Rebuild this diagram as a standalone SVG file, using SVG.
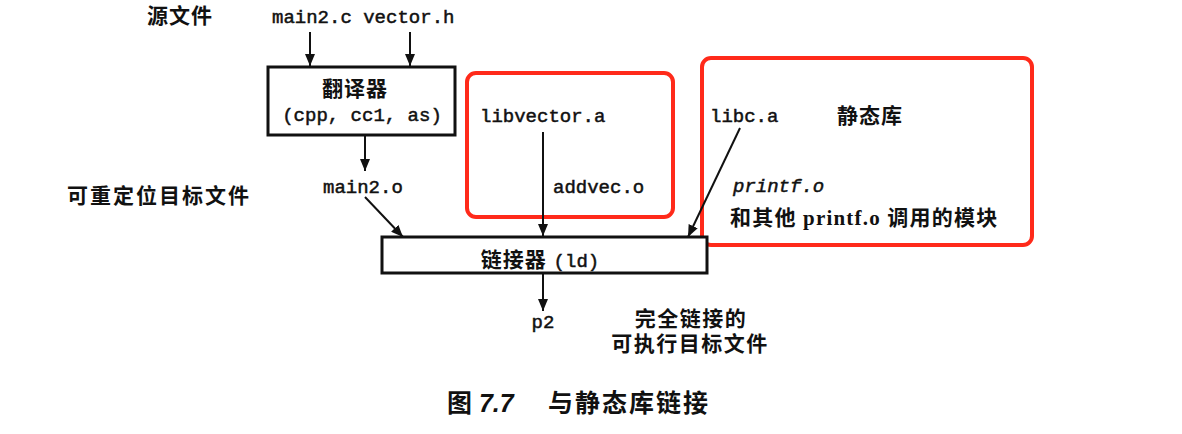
<svg xmlns="http://www.w3.org/2000/svg" width="1182" height="434" viewBox="0 0 1182 434">
<style>
.cn{font-family:"Liberation Sans","Noto Sans CJK SC",sans-serif;font-weight:bold;font-size:21px;fill:#111;letter-spacing:1px}
.mono{font-family:"Liberation Mono","Courier New",monospace;font-size:19px;fill:#111;stroke:#111;stroke-width:0.5}
.serif{font-family:"Liberation Serif","Noto Sans CJK SC",serif;font-weight:bold;font-size:21px;fill:#111;letter-spacing:1.2px}
.box{fill:#fff;stroke:#111;stroke-width:3}
.red{fill:none;stroke:#ff2a1a;stroke-width:4}
.edge{stroke:#111;stroke-width:2;fill:none;marker-end:url(#ah)}
</style>
<defs>
<marker id="ah" viewBox="0 0 12 10" refX="12" refY="5" markerWidth="12" markerHeight="10" orient="auto" markerUnits="userSpaceOnUse">
<path d="M0,0 L12,5 L0,10 z" fill="#111"/>
</marker>
</defs>
<rect width="1182" height="434" fill="#fff"/>
<g id="redbox1"><rect class="red" x="467" y="73" width="206" height="144" rx="9"/></g>
<g id="redbox2"><rect class="red" x="702" y="58" width="330" height="187" rx="9"/></g>
<g id="connectors">
<line class="edge" x1="310" y1="32" x2="310" y2="66"/>
<line class="edge" x1="410" y1="32" x2="410" y2="66"/>
<line class="edge" x1="365" y1="136" x2="365" y2="171"/>
<line class="edge" x1="365" y1="197" x2="403" y2="237"/>
<line class="edge" x1="543" y1="132" x2="543" y2="236"/>
<line class="edge" x1="740" y1="128" x2="688" y2="237"/>
<line class="edge" x1="543" y1="274" x2="543" y2="311"/>
</g>
<g id="label-source"><text class="cn" x="147" y="23">源文件</text></g>
<g id="sources"><text class="mono" x="272" y="23">main2.c vector.h</text></g>
<g id="translator">
<rect class="box" x="268" y="67" width="187" height="68"/>
<text class="cn" x="355" y="96" text-anchor="middle">翻译器</text>
<text class="mono" x="362" y="121" text-anchor="middle">(cpp, cc1, as)</text>
</g>
<g id="label-reloc"><text class="cn" x="67" y="203" style="letter-spacing:2px">可重定位目标文件</text></g>
<g id="main2o"><text class="mono" x="323" y="193">main2.o</text></g>
<g id="libvector"><text class="mono" x="480" y="122">libvector.a</text></g>
<g id="addvec"><text class="mono" x="553" y="193">addvec.o</text></g>
<g id="libc"><text class="mono" x="710" y="122">libc.a</text></g>
<g id="label-static"><text class="cn" x="837" y="123">静态库</text></g>
<g id="printf">
<text class="mono" x="733" y="192" style="font-style:italic">printf.o</text>
<text class="serif" x="730" y="225">和其他 printf.o 调用的模块</text>
</g>
<g id="linker">
<rect class="box" x="382" y="237" width="325" height="36"/>
<text x="540" y="267" text-anchor="middle"><tspan class="cn">链接器 </tspan><tspan class="mono">(ld)</tspan></text>
</g>
<g id="p2"><text class="mono" x="543" y="328" text-anchor="middle">p2</text></g>
<g id="label-exec">
<text class="cn" x="691" y="326" text-anchor="middle" style="letter-spacing:1.5px">完全链接的</text>
<text class="cn" x="690" y="351" text-anchor="middle" style="letter-spacing:1.5px">可执行目标文件</text>
</g>
<g id="caption">
<text x="447" y="412" class="cn" style="font-size:25px;letter-spacing:0"><tspan>图 </tspan><tspan style="font-style:italic">7.7</tspan><tspan x="548" style="letter-spacing:2px">与静态库链接</tspan></text>
</g>
</svg>
